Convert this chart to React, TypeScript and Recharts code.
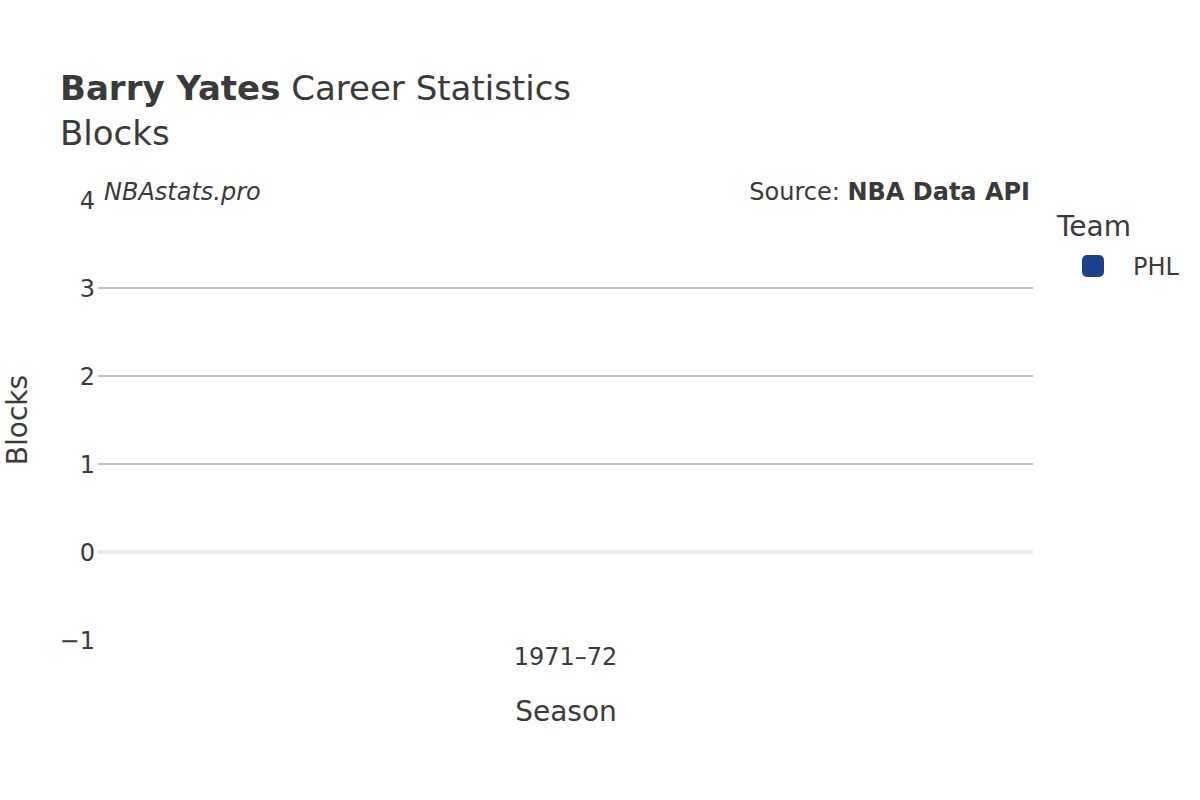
import React from 'react';
import { BarChart, Bar, XAxis, YAxis, ReferenceLine, Legend } from 'recharts';

const seasons = ['1971–72'];
const blocksPHL = [0];
const yTicks = [-1, 0, 1, 2, 3, 4];
const gridValues = [1, 2, 3];
const teamName = 'PHL';
const teamColor = '#1d428a';

const data = seasons.map((s, i) => ({ season: s, PHL: blocksPHL[i] }));

const FONT = '"DejaVu Sans", Verdana, sans-serif';
const TEXT = '#3a3a3a';

const LegendContent = () => (
  <svg width={140} height={80} style={{ overflow: 'visible', display: 'block' }}>
    <text x={0} y={31} fontFamily={FONT} fontSize={28} fill={TEXT}>Team</text>
    <rect x={25} y={50} width={22} height={22} rx={5} fill={teamColor} />
    <text x={76} y={70} fontFamily={FONT} fontSize={24} fill={TEXT}>{teamName}</text>
  </svg>
);

export default function App() {
  return (
    <div style={{ position: 'absolute', left: 0, top: 0, width: 1200, height: 800, background: '#fff' }}>
      <BarChart
        width={1200}
        height={800}
        data={data}
        margin={{ top: 200, right: 167, bottom: 100, left: 38 }}
      >
        {gridValues.map((v) => (
          <ReferenceLine key={v} y={v} stroke="#c0c0c0" strokeWidth={2} />
        ))}
        <ReferenceLine y={0} stroke="#ebebeb" strokeWidth={4} />
        <XAxis
          dataKey="season"
          height={60}
          axisLine={false}
          tickLine={false}
          tickSize={0}
          tickMargin={8}
          tick={{ fontFamily: FONT, fontSize: 24, fill: TEXT }}
        />
        <YAxis
          width={60}
          domain={[-1, 4]}
          ticks={yTicks}
          interval={0}
          allowDataOverflow
          axisLine={false}
          tickLine={false}
          tickSize={0}
          tickMargin={3}
          tickFormatter={(v) => (v < 0 ? '\u2212' + Math.abs(v) : String(v))}
          tick={{ fontFamily: FONT, fontSize: 24, fill: TEXT }}
        />
        <Bar dataKey="PHL" name={teamName} fill={teamColor} isAnimationActive={false} />
        <Legend
          content={<LegendContent />}
          wrapperStyle={{ position: 'absolute', left: 1057, top: 205, width: 0, height: 0, overflow: 'visible' }}
        />
      </BarChart>
      <svg
        width={1200}
        height={800}
        style={{ position: 'absolute', left: 0, top: 0, pointerEvents: 'none' }}
      >
        <text x={60} y={100} fontFamily={FONT} fontSize={34} fill={TEXT}>
          <tspan fontWeight="bold">Barry Yates</tspan>
          <tspan> Career Statistics</tspan>
        </text>
        <text x={60} y={145} fontFamily={FONT} fontSize={34} fill={TEXT}>Blocks</text>
        <text x={104} y={200} fontFamily={FONT} fontSize={24} fontStyle="italic" fill={TEXT}>NBAstats.pro</text>
        <text x={1030} y={200} fontFamily={FONT} fontSize={24} fill={TEXT} textAnchor="end">
          <tspan>Source: </tspan>
          <tspan fontWeight="bold">NBA Data API</tspan>
        </text>
        <text x={566} y={721} fontFamily={FONT} fontSize={28} fill={TEXT} textAnchor="middle">Season</text>
        <text
          x={0}
          y={0}
          transform="translate(27,420) rotate(-90)"
          fontFamily={FONT}
          fontSize={28}
          fill={TEXT}
          textAnchor="middle"
        >
          Blocks
        </text>
      </svg>
    </div>
  );
}
